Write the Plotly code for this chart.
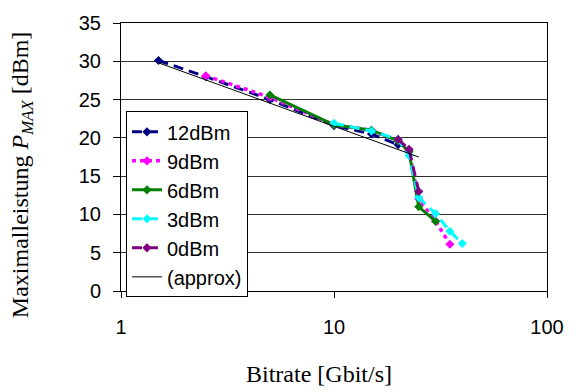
import plotly.graph_objects as go

# ---- data ----
x_12 = [1.5, 2.5, 5, 10, 15, 20]
y_12 = [30.1, 28.0, 25.0, 21.6, 20.5, 19.1]

x_9 = [2.5, 5, 10, 15, 20, 22.5, 25, 30, 35]
y_9 = [28.1, 25.3, 21.7, 21.0, 19.6, 18.3, 12.0, 9.1, 6.1]

x_6 = [5, 10, 15, 20, 22.5, 25, 30]
y_6 = [25.6, 21.7, 21.0, 19.6, 18.2, 11.0, 9.1]

x_3 = [10, 15, 20, 22.5, 25, 30, 35, 40]
y_3 = [21.9, 20.9, 19.8, 17.7, 12.2, 10.1, 7.8, 6.2]

x_0 = [20, 22.5, 25]
y_0 = [19.8, 18.5, 13.0]

x_approx = [1.5, 25]
y_approx = [29.8, 17.5]

names = ["12dBm", "9dBm", "6dBm", "3dBm", "0dBm", "(approx)"]
colors = ["#000080", "#FF00FF", "#008000", "#00FFFF", "#800080", "#000000"]
dashes = ["10px,6px", "4px,4px", "solid", "10px,6px", "10px,6px", "solid"]
widths = [3, 3.5, 3, 3, 3, 1]
xs = [x_12, x_9, x_6, x_3, x_0, x_approx]
ys = [y_12, y_9, y_6, y_3, y_0, y_approx]

fig = go.Figure()
for nm, c, d, w, xx, yy in zip(names, colors, dashes, widths, xs, ys):
    is_approx = nm == "(approx)"
    fig.add_trace(go.Scatter(
        x=xx, y=yy, name=nm,
        mode="lines" if is_approx else "lines+markers",
        line=dict(color=c, width=w, dash=d),
        marker=dict(symbol="diamond", size=7, color=c),
    ))

# plot area geometry in px
L, R, T, B = 121, 550, 15, 291
W, H = 576, 392

def px_x(px):
    return (px - L) / (R - L)

def px_y(py):
    return (B - py) / (B - T)

fig.update_layout(
    width=W, height=H,
    margin=dict(l=L, r=W - R, t=T, b=H - B),
    paper_bgcolor="white", plot_bgcolor="white",
    showlegend=True,
    legend=dict(
        x=px_x(126), y=px_y(106), xanchor="left", yanchor="top",
        bgcolor="white", bordercolor="black", borderwidth=1,
        font=dict(family="Liberation Sans", size=20, color="black"),
        entrywidth=100, entrywidthmode="pixels",
    ),
    xaxis=dict(
        type="log", range=[0, 2], tickvals=[1, 10, 100], ticktext=["1", "10", "100"],
        showgrid=False, showline=True, linecolor="black", linewidth=1, mirror=True,
        ticks="outside", ticklen=6, tickcolor="black",
        tickfont=dict(family="Liberation Sans", size=20, color="black"),
        ticklabelstandoff=12, zeroline=False,
    ),
    yaxis=dict(
        range=[0, 35], dtick=5, tick0=0,
        showgrid=True, gridcolor="#303030", gridwidth=1,
        showline=True, linecolor="black", linewidth=1, mirror=True,
        ticks="outside", ticklen=7, tickcolor="black",
        tickfont=dict(family="Liberation Sans", size=20, color="black"),
        ticklabelstandoff=8, zeroline=False,
    ),
    annotations=[
        dict(text="Bitrate [Gbit/s]", xref="paper", yref="paper",
             x=px_x(320), y=px_y(376), xanchor="center", yanchor="middle",
             showarrow=False, font=dict(family="Liberation Serif", size=24, color="black")),
        dict(text="Maximalleistung <i>P</i><sub><i>MAX</i></sub> [dBm]", xref="paper", yref="paper",
             x=px_x(22), y=px_y(172), xanchor="center", yanchor="middle", textangle=-90,
             showarrow=False, font=dict(family="Liberation Serif", size=24, color="black")),
    ],
)

fig.write_html("out.html")
